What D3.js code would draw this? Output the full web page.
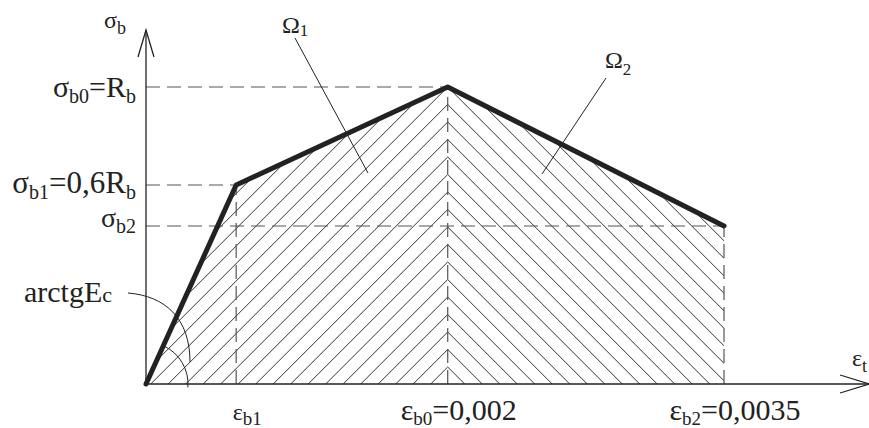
<!DOCTYPE html>
<html>
<head>
<meta charset="utf-8">
<script src="https://cdn.jsdelivr.net/npm/d3@7"></script>
<style>
  html, body { margin: 0; padding: 0; background: #fff; }
  svg { display: block; }
  text { font-family: "Liberation Serif", "Times New Roman", serif; fill: #222; }
</style>
</head>
<body>
<svg id="chart" width="869" height="428"></svg>
<script>
// ---- data (schematic, relative units) ----
// strain positions along the horizontal axis (0 = origin, 1 = eps_b2)
const strain = [0, 0.156, 0.522, 1.0];
// stress positions along vertical axis (1 = sigma_b0 = R_b)
const stress = [0, 0.67, 1.0, 0.532];
// axis extents in the same units
const strainAxisMax = 1.251;
const stressAxisMax = 1.192;
// tick labels (parts: [text, isSubscript])
const stressTickLabels = [
  [["σ", 0], ["b0", 1], ["=R", 0], ["b", 1]],
  [["σ", 0], ["b1", 1], ["=0,6R", 0], ["b", 1]],
  [["σ", 0], ["b2", 1]]
];
const stressTickValues = [1.0, 0.67, 0.532];
const strainTickLabels = [
  [["ε", 0], ["b1", 1]],
  [["ε", 0], ["b0", 1], ["=0,002", 0]],
  [["ε", 0], ["b2", 1], ["=0,0035", 0]]
];
const strainTickValues = [0.156, 0.522, 1.0];
const axisTitleY = [["σ", 0], ["b", 1]];
const axisTitleX = [["ε", 0], ["t", 1]];
const regionLabels = [[["Ω", 0], ["1", 1]], [["Ω", 0], ["2", 1]]];
const angleLabel = [["arctgE", 0], ["c", 1]];

// ---- layout ----
const svg = d3.select("#chart");
const x = d3.scaleLinear().domain([0, 1]).range([146, 724]);
const y = d3.scaleLinear().domain([0, 1]).range([384, 87]);
const ink = "#222";
const pts = strain.map((s, i) => [x(s), y(stress[i])]);

function label(parts, px, py, size, anchor, subSize, subShift) {
  const t = svg.append("text").attr("x", px).attr("y", py)
    .attr("font-size", size).attr("text-anchor", anchor || "start");
  let shifted = false;
  parts.forEach(([str, sub]) => {
    const ts = t.append("tspan").text(str);
    if (sub && !shifted) { ts.attr("font-size", subSize || size * 0.7).attr("dy", subShift); shifted = true; }
    else if (!sub && shifted) { ts.attr("dy", -subShift); shifted = false; }
  });
  return t;
}

// ---- hatching ----
const defs = svg.append("defs");
const peak = pts[2];
const leftPoly = [pts[0], pts[1], pts[2], [peak[0], y(0)]];
const rightPoly = [[peak[0], y(0)], pts[2], pts[3], [pts[3][0], y(0)]];
defs.append("clipPath").attr("id", "clipL").append("polygon").attr("points", leftPoly.map(p => p.join(",")).join(" "));
defs.append("clipPath").attr("id", "clipR").append("polygon").attr("points", rightPoly.map(p => p.join(",")).join(" "));

const step = 17.5;
const hl = svg.append("g").attr("clip-path", "url(#clipL)").attr("stroke", "#333").attr("stroke-width", 1);
const hr = svg.append("g").attr("clip-path", "url(#clipR)").attr("stroke", "#333").attr("stroke-width", 1);
const H = 400;
for (let k = -40; k <= 40; k++) {
  const yk = peak[1] + k * step; // crossing of the divider line
  hl.append("line").attr("x1", peak[0] - H).attr("y1", yk + H).attr("x2", peak[0] + 10).attr("y2", yk - 10);
  hr.append("line").attr("x1", peak[0] - 10).attr("y1", yk - 10).attr("x2", peak[0] + H).attr("y2", yk + H);
}
// thin outline of the hatched area
svg.append("polyline").attr("points", pts.map(p => p.join(",")).join(" "))
  .attr("fill", "none").attr("stroke", "#555").attr("stroke-width", 1);

// ---- dashed guide lines ----
const dash = svg.append("g").attr("stroke", "#555").attr("stroke-width", 1.2)
  .attr("stroke-dasharray", "14,7").attr("fill", "none");
[1, 2, 3].forEach(i => {
  dash.append("line").attr("x1", x(0)).attr("y1", pts[i][1]).attr("x2", pts[i][0]).attr("y2", pts[i][1]);
  dash.append("line").attr("x1", pts[i][0]).attr("y1", y(0)).attr("x2", pts[i][0]).attr("y2", pts[i][1]);
});

// ---- axes ----
const ax = svg.append("g").attr("stroke", ink).attr("stroke-width", 1.3).attr("fill", "none");
ax.append("line").attr("x1", x(0)).attr("y1", y(0)).attr("x2", x(strainAxisMax)).attr("y2", y(0));
ax.append("line").attr("x1", x(0)).attr("y1", y(0)).attr("x2", x(0)).attr("y2", y(stressAxisMax));
ax.append("polyline").attr("points", [[x(strainAxisMax) - 29, y(0) - 9], [x(strainAxisMax), y(0)], [x(strainAxisMax) - 29, y(0) + 9]].map(p => p.join(",")).join(" "));
ax.append("polyline").attr("points", [[x(0) - 8, y(stressAxisMax) + 27], [x(0), y(stressAxisMax)], [x(0) + 8, y(stressAxisMax) + 27]].map(p => p.join(",")).join(" "));

// ---- bold diagram curve ----
svg.append("path").attr("d", d3.line()(pts))
  .attr("fill", "none").attr("stroke", ink).attr("stroke-width", 5)
  .attr("stroke-linejoin", "round").attr("stroke-linecap", "round");

// ---- angle arc & leader ----
const g0 = svg.append("g").attr("stroke", ink).attr("stroke-width", 1).attr("fill", "none");
const ang = Math.atan2(y(0) - pts[1][1], pts[1][0] - x(0));
const arcPath = d3.path();
arcPath.arc(x(0), y(0), 42, -ang, 0.08, false);
g0.append("path").attr("d", arcPath.toString());
g0.append("path").attr("d", "M128,293 C165,296 190,318 190,362");

// ---- region leaders ----
g0.append("line").attr("x1", 295).attr("y1", 38).attr("x2", 368).attr("y2", 173);
g0.append("line").attr("x1", 606).attr("y1", 78).attr("x2", 542).attr("y2", 174);

// ---- labels ----
const stressDy = [10, 8, 1];
const stressSize = [30, 31, 28];
stressTickValues.forEach((v, i) => {
  label(stressTickLabels[i], x(0) - 10, y(v) + stressDy[i], stressSize[i], "end", 20, 6);
});
const strainSize = [24, 30, 30];
strainTickValues.forEach((v, i) => {
  label(strainTickLabels[i], x(v) + 11, y(0) + 36, strainSize[i], "middle", 19, 5);
});
label(axisTitleY, 104, 28, 24, "start", 18, 6);
label(axisTitleX, 852, 366, 24, "start", 18, 6);
label(regionLabels[0], 282, 33, 24, "start", 17, 3);
label(regionLabels[1], 605, 68, 24, "start", 17, 7);
label(angleLabel, 24, 302, 30, "start", 22, 0);
</script>
</body>
</html>
